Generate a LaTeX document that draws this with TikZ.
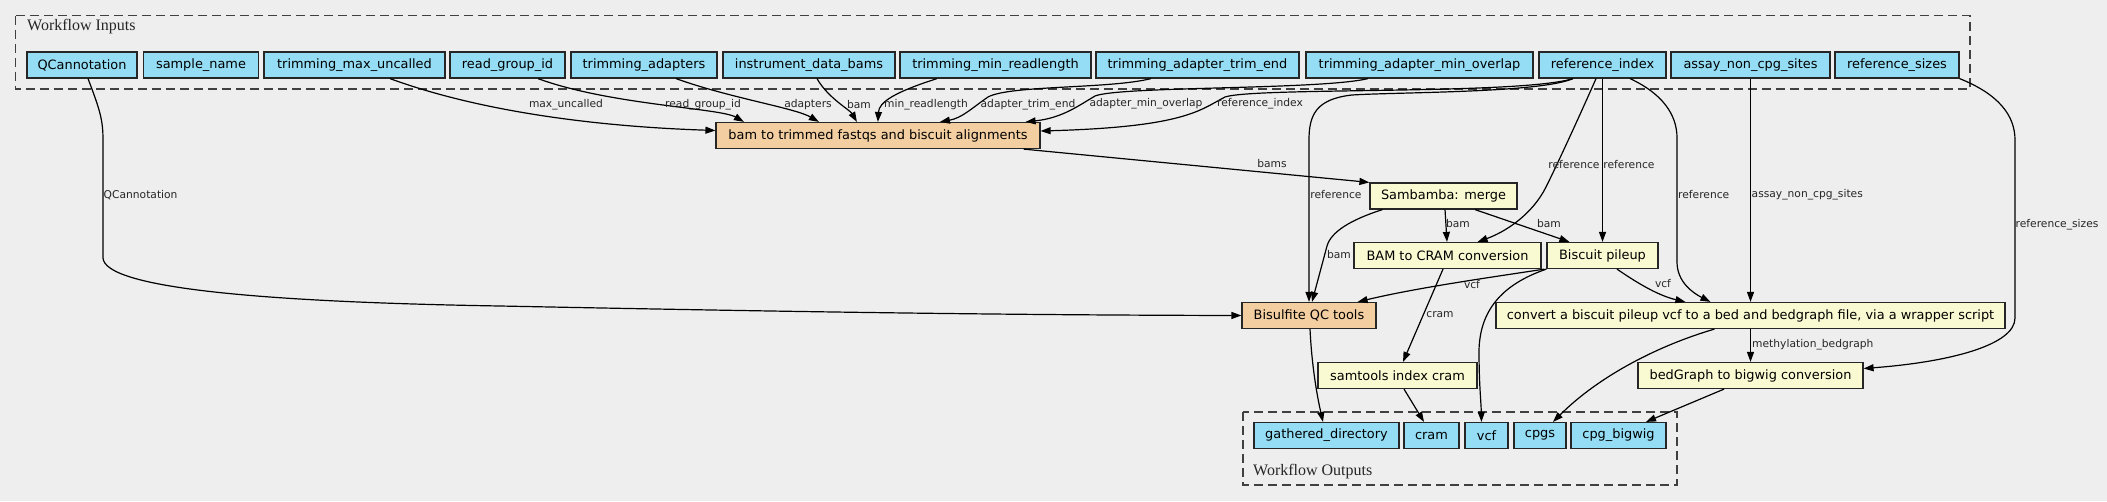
\documentclass[tikz,border=0pt]{standalone}
\usepackage{fontspec}
\setmainfont{DejaVu Sans}
\newfontfamily\clusterfont{Liberation Serif}
\usetikzlibrary{arrows.meta,calc}
\definecolor{bgc}{HTML}{EEEEEE}
\definecolor{inblue}{HTML}{94DDF4}
\definecolor{steporange}{HTML}{F3CEA1}
\definecolor{stepyellow}{HTML}{FAFAD2}
\begin{document}
\begin{tikzpicture}[x=1pt,y=-1pt,
  box/.style={draw=black!85, line width=1.2pt, inner sep=0pt, minimum height=26pt, font=\fontsize{12.9}{14}\selectfont, anchor=center},
  inp/.style={box, fill=inblue},
  orangebox/.style={box, fill=steporange},
  yellowbox/.style={box, fill=stepyellow},
  lbl/.style={font=\fontsize{10.7}{12}\selectfont, inner sep=0pt, text=black!85},
  edge/.style={draw=black, line width=1.2pt, -{Triangle[length=10pt,width=7pt]}},
  cluster/.style={draw=black!75, dash pattern=on 9pt off 5pt, line width=1.2pt},
  clabel/.style={font=\clusterfont\fontsize{16}{18}\selectfont, inner sep=0pt, anchor=west, text=black!85},
]
\fill[bgc] (0,0) rectangle (2107,501);
\useasboundingbox (0,0) rectangle (2107,501);

% clusters
\draw[cluster] (15.6,15.7) rectangle (1970,89);
\node[clabel] (inlab) at (27,27) {Workflow Inputs};
\draw[cluster] (1243,412) rectangle (1677,485);
\node[clabel] (outlab) at (1253,472) {Workflow Outputs};

% inputs
\node[inp, minimum width=110pt] (qc) at (82,65) {QCannotation};
\node[inp, minimum width=115pt] (sn) at (201,65) {sample\_name};
\node[inp, minimum width=181pt] (tmu) at (354.5,65) {trimming\_max\_uncalled};
\node[inp, minimum width=115pt] (rgi) at (507.5,65) {read\_group\_id};
\node[inp, minimum width=146pt] (ta) at (644,65) {trimming\_adapters};
\node[inp, minimum width=172pt] (idb) at (809,65) {instrument\_data\_bams};
\node[inp, minimum width=191pt] (tmr) at (995.5,65) {trimming\_min\_readlength};
\node[inp, minimum width=203pt] (tate) at (1197.5,65) {trimming\_adapter\_trim\_end};
\node[inp, minimum width=227pt] (tamo) at (1419.5,65) {trimming\_adapter\_min\_overlap};
\node[inp, minimum width=127pt] (ri) at (1602.5,65) {reference\_index};
\node[inp, minimum width=159pt] (ancs) at (1750.5,65) {assay\_non\_cpg\_sites};
\node[inp, minimum width=124pt] (rs) at (1897,65) {reference\_sizes};

% steps
\node[orangebox, minimum width=324pt] (bam) at (878,135.5) {bam to trimmed fastqs and biscuit alignments};
\node[yellowbox, minimum width=147pt] (samb) at (1443.5,196) {Sambamba: merge};
\node[yellowbox, minimum width=187pt] (b2c) at (1447.5,255.5) {BAM to CRAM conversion};
\node[yellowbox, minimum width=111pt] (bp) at (1602.5,255.5) {Biscuit pileup};
\node[orangebox, minimum width=134pt] (bqc) at (1309,315.5) {Bisulfite QC tools};
\node[yellowbox, minimum width=509pt] (conv) at (1750.5,315.5) {convert a biscuit pileup vcf to a bed and bedgraph file, via a wrapper script};
\node[yellowbox, minimum width=159pt] (sic) at (1397.5,375.5) {samtools index cram};
\node[yellowbox, minimum width=225pt] (bg) at (1750.5,375.5) {bedGraph to bigwig conversion};

% outputs
\node[inp, minimum width=145pt] (gd) at (1326.5,435.5) {gathered\_directory};
\node[inp, minimum width=55pt] (cram) at (1431.5,435.5) {cram};
\node[inp, minimum width=43pt] (vcf) at (1486.5,435.5) {vcf};
\node[inp, minimum width=52pt] (cpgs) at (1540,435.5) {cpgs};
\node[inp, minimum width=95pt] (cbw) at (1618.5,435.5) {cpg\_bigwig};

% edges into bam
\draw[edge] ($(qc.south)+(6,0)$) .. controls (100,110) and (103,120) .. (103,140) -- (103,258) .. controls (105,288) and (260,302) .. (500,306) .. controls (800,312) and (1000,315) .. (bqc.west);
\draw[edge] ($(tmu.south)+(35.5,0)$) .. controls (470,108) and (580,126) .. ($(bam.west)+(0,-5)$);
\draw[edge] ($(rgi.south)+(30.5,0)$) .. controls (610,105) and (720,108) .. ($(bam.north west)+(28.5,0)$);
\draw[edge] ($(ta.south)+(32,0)$) .. controls (730,98) and (795,108) .. ($(bam.north west)+(103.5,0)$);
\draw[edge] ($(idb.south)+(8,0)$) .. controls (828,98) and (850,110) .. ($(bam.north west)+(141.5,0)$);
\draw[edge] ($(tmr.south)+(-58.5,0)$) .. controls (895,92) and (879,102) .. ($(bam.north west)+(162.5,0)$);
\draw[edge] ($(tate.south)+(-46.5,0)$) .. controls (1110,89) and (1010,85) .. (988,97) .. controls (972,108) and (962,118) .. ($(bam.north west)+(224.5,0)$);
\draw[edge] ($(tamo.south)+(-51.5,0)$) .. controls (1320,90) and (1120,86) .. (1095,96) .. controls (1078,106) and (1062,118) .. ($(bam.north east)+(-15,0)$);
\draw[edge] ($(ri.south)+(-29.5,0)$) .. controls (1520,95) and (1255,87) .. (1225,97) .. controls (1200,110) and (1185,127) .. ($(bam.east)+(0,-4.5)$);

% reference_index fan-out
\draw[edge] ($(ri.south)+(-29.5,0)$) .. controls (1540,93) and (1400,92) .. (1352,95) .. controls (1316,99) and (1309,115) .. (1309,140) -- (bqc.north);
\draw[edge] ($(ri.south)+(-6.5,0)$) .. controls (1580,115) and (1557,165) .. (1546,187) .. controls (1532,215) and (1505,232) .. ($(b2c.north east)+(-64,0)$);
\draw[edge] (ri.south) -- (bp.north);
\draw[edge] ($(ri.south)+(27.5,0)$) .. controls (1663,94) and (1677,115) .. (1677,138) -- (1677,262) .. controls (1677,282) and (1693,293) .. ($(conv.north west)+(215,0)$);
\draw[edge] (ancs.south) -- (conv.north);
\draw[edge] (rs.south east) .. controls (1998,94) and (2015,115) .. (2015,140) -- (2015,318) .. controls (2015,345) and (1950,362) .. ($(bg.east)+(0,-7)$);

% step to step
\draw[edge] ($(bam.south east)+(-17,0)$) -- (samb.north west);
\draw[edge] ($(samb.south west)+(13,0)$) .. controls (1350,220) and (1331,232) .. (1327,246) -- ($(bqc.north)+(3,0)$);
\draw[edge] ($(samb.south)+(1.5,0)$) -- ($(b2c.north)+(-0.5,0)$);
\draw[edge] ($(samb.south)+(31.5,0)$) -- ($(bp.north west)+(23,0)$);
\draw[edge] ($(bp.south west)+(-2,0)$) .. controls (1500,276) and (1420,287) .. ($(bqc.north east)+(-19,0)$);
\draw[edge] (bp.south west) .. controls (1500,285) and (1480,312) .. (1479,350) .. controls (1479,385) and (1481,400) .. ($(vcf.north)+(-5,0)$);
\draw[edge] ($(bp.south)+(14.5,0)$) .. controls (1640,285) and (1660,296) .. ($(conv.north west)+(190,0)$);
\draw[edge] ($(b2c.south)+(-4.5,0)$) -- ($(sic.north)+(5.5,0)$);
\draw[edge] ($(bqc.south)+(1,0)$) .. controls (1312,370) and (1318,400) .. ($(gd.north)+(-3.5,0)$);
\draw[edge] ($(sic.south)+(6.5,0)$) -- ($(cram.north)+(-7.5,0)$);
\draw[edge] ($(conv.south west)+(219,0)$) .. controls (1660,345) and (1600,375) .. ($(cpgs.north)+(13,0)$);
\draw[edge] (conv.south) -- (bg.north);
\draw[edge] ($(bg.south)+(-26.5,0)$) -- ($(cbw.north)+(27.5,0)$);

% labels
\node[lbl, anchor=west] (l1) at (103.5,195) {QCannotation};
\node[lbl] (l2) at (566,105) {max\_uncalled};
\node[lbl] (l3) at (703,105) {read\_group\_id};
\node[lbl] (l4) at (808,105) {adapters};
\node[lbl] (l5) at (859,105) {bam};
\node[lbl] (l6) at (926,105) {min\_readlength};
\node[lbl] (l7) at (1028,105) {adapter\_trim\_end};
\node[lbl] (l8) at (1146,104) {adapter\_min\_overlap};
\node[lbl] (l9) at (1260,104) {reference\_index};
\node[lbl] (l10) at (1272,164) {bams};
\node[lbl] (l11) at (1336,195) {reference};
\node[lbl] (l12) at (1574,165) {reference};
\node[lbl] (l13) at (1629,165) {reference};
\node[lbl, anchor=west] (l14) at (1678,195) {reference};
\node[lbl, anchor=west] (l15) at (1751.5,195) {assay\_non\_cpg\_sites};
\node[lbl, anchor=west] (l16) at (2015.5,225) {reference\_sizes};
\node[lbl] (l17) at (1339,255) {bam};
\node[lbl] (l18) at (1458,224) {bam};
\node[lbl] (l19) at (1549,224) {bam};
\node[lbl] (l20) at (1472,285) {vcf};
\node[lbl] (l21) at (1663,284) {vcf};
\node[lbl] (l22) at (1440,315) {cram};
\node[lbl, anchor=west] (l23) at (1752,345) {methylation\_bedgraph};
\end{tikzpicture}
\end{document}
